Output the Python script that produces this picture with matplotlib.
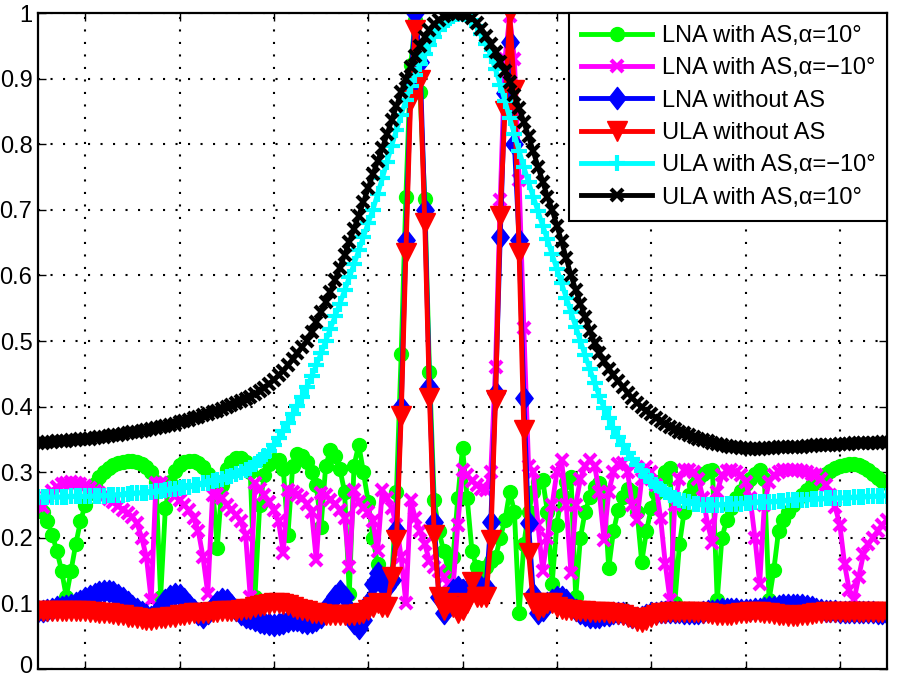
import numpy as np
import matplotlib
matplotlib.use("Agg")
import matplotlib.pyplot as plt
from matplotlib.path import Path
from matplotlib.transforms import ScaledTranslation

plt.rcParams['font.family'] = ['Liberation Sans', 'DejaVu Sans']

# ---------------- data (angle in degrees, -90..90 step 1) ----------------
angles = np.arange(-90, 91)

lna_as_p10 = [  # green, LNA with AS, alpha=10
    0.250,0.240,0.225,0.205,0.180,0.150,0.110,0.150,0.190,0.225,
    0.250,0.268,0.282,0.293,0.301,0.307,0.311,0.314,0.316,0.317,
    0.317,0.316,0.313,0.308,0.300,0.285,0.110,0.245,0.285,0.302,
    0.311,0.315,0.317,0.317,0.314,0.308,0.298,0.280,0.185,0.280,
    0.305,0.316,0.321,0.321,0.316,0.300,0.110,0.250,0.295,0.312,
    0.318,0.318,0.305,0.205,0.310,0.328,0.325,0.315,0.300,0.280,
    0.217,0.310,0.334,0.325,0.305,0.270,0.115,0.310,0.342,0.300,
    0.255,0.200,0.160,0.140,0.130,0.135,0.270,0.480,0.720,0.920,
    0.990,0.880,0.716,0.453,0.257,0.210,0.180,0.150,0.170,0.260,
    0.337,
    0.260,0.180,0.155,0.150,0.155,0.165,0.170,0.200,0.227,0.270,
    0.240,0.085,0.190,0.240,0.270,0.285,0.288,0.240,0.130,0.220,
    0.265,0.285,0.293,0.110,0.200,0.240,0.262,0.278,0.283,0.270,
    0.154,0.210,0.242,0.262,0.275,0.270,0.240,0.163,0.210,0.245,
    0.268,0.287,0.300,0.306,0.100,0.190,0.240,0.265,0.280,0.290,
    0.297,0.302,0.303,0.105,0.200,0.227,0.245,0.260,0.272,0.282,
    0.290,0.297,0.303,0.290,0.105,0.151,0.210,0.227,0.240,0.250,
    0.258,0.266,0.273,0.280,0.287,0.293,0.298,0.302,0.306,0.309,
    0.311,0.312,0.312,0.311,0.308,0.303,0.297,0.291,0.286,0.283]

lna_as_m10 = [  # magenta, LNA with AS, alpha=-10
    0.250,0.247,0.262,0.272,0.278,0.282,0.284,0.285,0.284,0.282,
    0.279,0.276,0.272,0.268,0.264,0.259,0.254,0.248,0.243,0.238,
    0.232,0.222,0.200,0.170,0.105,0.283,0.283,0.277,0.270,0.264,
    0.257,0.250,0.242,0.230,0.210,0.170,0.115,0.265,0.267,0.260,
    0.250,0.243,0.235,0.225,0.205,0.110,0.283,0.275,0.265,0.255,
    0.242,0.225,0.177,0.273,0.270,0.266,0.260,0.252,0.240,0.166,
    0.268,0.265,0.258,0.252,0.243,0.230,0.155,0.273,0.255,0.245,
    0.240,0.225,0.180,0.273,0.260,0.245,0.220,0.170,0.100,0.257,
    0.230,0.210,0.190,0.165,0.155,0.150,0.140,0.130,0.125,0.220,
    0.303,
    0.295,0.287,0.280,0.275,0.273,0.300,0.460,0.715,0.930,0.995,
    0.930,0.745,0.520,0.310,0.300,0.220,0.150,0.200,0.250,0.300,
    0.318,0.250,0.146,0.250,0.290,0.310,0.318,0.310,0.270,0.197,
    0.270,0.300,0.312,0.314,0.300,0.250,0.227,0.290,0.308,0.300,
    0.280,0.230,0.160,0.105,0.250,0.290,0.303,0.303,0.300,0.290,
    0.260,0.220,0.192,0.270,0.295,0.302,0.303,0.300,0.295,0.285,
    0.260,0.200,0.130,0.250,0.285,0.295,0.300,0.303,0.304,0.304,
    0.303,0.302,0.300,0.298,0.295,0.290,0.280,0.265,0.247,0.220,
    0.160,0.120,0.105,0.140,0.175,0.190,0.200,0.210,0.220,0.227]

lna_no_as = [  # blue, LNA without AS
    0.088,0.089,0.090,0.092,0.094,0.095,0.096,0.098,0.101,0.104,
    0.108,0.112,0.115,0.118,0.119,0.119,0.117,0.113,0.108,0.102,
    0.096,0.092,0.087,0.083,0.080,0.085,0.095,0.105,0.111,0.114,
    0.113,0.107,0.098,0.090,0.084,0.080,0.085,0.095,0.102,0.106,
    0.105,0.098,0.090,0.084,0.080,0.077,0.074,0.072,0.070,0.068,
    0.067,0.068,0.070,0.073,0.075,0.074,0.072,0.070,0.072,0.075,
    0.080,0.088,0.100,0.112,0.119,0.110,0.090,0.070,0.062,0.075,
    0.100,0.130,0.146,0.130,0.125,0.135,0.212,0.400,0.654,0.885,
    1.000,0.925,0.700,0.430,0.224,0.110,0.085,0.100,0.120,0.125,
    0.120,
    0.110,0.130,0.120,0.125,0.125,0.224,0.420,0.659,0.878,0.956,
    0.800,0.654,0.413,0.222,0.115,0.085,0.090,0.100,0.105,0.110,
    0.110,0.105,0.095,0.090,0.085,0.082,0.080,0.080,0.080,0.082,
    0.083,0.085,0.085,0.085,0.083,0.080,0.078,0.080,0.083,0.085,
    0.086,0.087,0.087,0.087,0.087,0.087,0.086,0.086,0.086,0.086,
    0.087,0.088,0.089,0.090,0.091,0.092,0.092,0.091,0.090,0.090,
    0.090,0.091,0.092,0.093,0.094,0.095,0.096,0.097,0.098,0.098,
    0.098,0.097,0.096,0.094,0.092,0.090,0.089,0.088,0.088,0.087,
    0.087,0.087,0.087,0.087,0.087,0.087,0.087,0.086,0.086,0.086]

ula_no_as = [  # red, ULA without AS
    0.088,0.088,0.088,0.088,0.088,0.088,0.088,0.088,0.088,0.088,
    0.088,0.087,0.087,0.086,0.086,0.085,0.084,0.083,0.082,0.080,
    0.079,0.077,0.076,0.075,0.075,0.076,0.077,0.078,0.079,0.080,
    0.082,0.083,0.084,0.085,0.085,0.086,0.086,0.087,0.087,0.088,
    0.088,0.089,0.089,0.090,0.091,0.092,0.094,0.096,0.098,0.099,
    0.100,0.100,0.099,0.097,0.095,0.092,0.090,0.088,0.086,0.085,
    0.084,0.083,0.082,0.082,0.082,0.083,0.083,0.083,0.084,0.086,
    0.090,0.095,0.100,0.095,0.095,0.140,0.197,0.385,0.634,0.867,
    0.974,0.898,0.680,0.413,0.204,0.110,0.090,0.100,0.095,0.085,
    0.090,
    0.100,0.133,0.110,0.110,0.110,0.197,0.410,0.690,0.850,1.000,
    0.883,0.634,0.364,0.177,0.100,0.090,0.095,0.100,0.100,0.095,
    0.092,0.090,0.090,0.089,0.088,0.088,0.087,0.087,0.087,0.087,
    0.086,0.085,0.084,0.082,0.080,0.077,0.073,0.071,0.075,0.080,
    0.083,0.085,0.086,0.087,0.087,0.087,0.087,0.087,0.087,0.087,
    0.086,0.085,0.084,0.083,0.083,0.083,0.083,0.084,0.085,0.086,
    0.087,0.087,0.087,0.086,0.085,0.084,0.083,0.082,0.081,0.081,
    0.081,0.082,0.083,0.084,0.085,0.086,0.087,0.087,0.087,0.087,
    0.087,0.087,0.087,0.087,0.087,0.087,0.087,0.087,0.087,0.087]

ula_as_m10 = [  # cyan, ULA with AS, alpha=-10
    0.262,0.262,0.262,0.262,0.262,0.262,0.262,0.263,0.263,0.263,
    0.263,0.263,0.264,0.264,0.264,0.265,0.265,0.266,0.266,0.267,
    0.268,0.268,0.269,0.269,0.270,0.271,0.272,0.273,0.274,0.275,
    0.276,0.277,0.278,0.280,0.281,0.283,0.284,0.286,0.288,0.290,
    0.292,0.294,0.297,0.300,0.303,0.307,0.312,0.318,0.325,0.333,
    0.342,0.352,0.363,0.375,0.388,0.401,0.415,0.430,0.446,0.463,
    0.481,0.500,0.519,0.538,0.557,0.577,0.597,0.617,0.638,0.659,
    0.680,0.700,0.724,0.748,0.773,0.798,0.822,0.845,0.867,0.888,
    0.906,0.922,0.937,0.951,0.963,0.974,0.983,0.990,0.996,0.999,
    0.999,
    0.997,0.990,0.980,0.968,0.953,0.935,0.914,0.891,0.866,0.840,
    0.815,0.790,0.765,0.742,0.720,0.698,0.676,0.655,0.632,0.610,
    0.588,0.566,0.544,0.522,0.500,0.478,0.457,0.436,0.416,0.398,
    0.382,0.367,0.353,0.341,0.330,0.320,0.311,0.302,0.294,0.287,
    0.281,0.275,0.270,0.265,0.261,0.258,0.256,0.254,0.252,0.251,
    0.250,0.250,0.250,0.250,0.250,0.251,0.251,0.252,0.252,0.253,
    0.253,0.254,0.254,0.255,0.255,0.255,0.256,0.256,0.257,0.257,
    0.258,0.258,0.258,0.259,0.259,0.259,0.260,0.260,0.260,0.261,
    0.261,0.261,0.262,0.262,0.262,0.263,0.263,0.263,0.264,0.264]

ula_as_p10 = [  # black, ULA with AS, alpha=10
    0.345,0.345,0.346,0.346,0.347,0.347,0.348,0.349,0.349,0.350,
    0.351,0.351,0.352,0.353,0.354,0.355,0.356,0.357,0.358,0.359,
    0.361,0.362,0.363,0.365,0.366,0.368,0.369,0.371,0.372,0.374,
    0.376,0.378,0.380,0.382,0.384,0.387,0.389,0.392,0.394,0.397,
    0.400,0.402,0.405,0.408,0.411,0.415,0.419,0.424,0.429,0.435,
    0.441,0.448,0.455,0.463,0.472,0.481,0.491,0.500,0.514,0.529,
    0.544,0.559,0.575,0.593,0.612,0.631,0.651,0.671,0.691,0.712,
    0.733,0.754,0.774,0.794,0.815,0.837,0.858,0.879,0.900,0.918,
    0.935,0.950,0.963,0.974,0.983,0.990,0.995,0.998,1.000,1.000,
    0.999,
    0.997,0.992,0.985,0.976,0.965,0.953,0.940,0.926,0.911,0.895,
    0.875,0.855,0.834,0.812,0.789,0.766,0.743,0.720,0.700,0.676,
    0.652,0.626,0.600,0.578,0.557,0.536,0.516,0.497,0.482,0.469,
    0.458,0.448,0.439,0.430,0.421,0.413,0.406,0.399,0.393,0.388,
    0.383,0.378,0.373,0.369,0.366,0.362,0.359,0.356,0.354,0.351,
    0.349,0.347,0.345,0.343,0.342,0.340,0.339,0.338,0.337,0.337,
    0.336,0.336,0.336,0.337,0.337,0.337,0.338,0.338,0.338,0.339,
    0.339,0.339,0.340,0.340,0.341,0.341,0.341,0.342,0.342,0.343,
    0.343,0.343,0.344,0.344,0.344,0.345,0.345,0.345,0.346,0.346]

labels = ["LNA with AS,\u03b1=10\u00b0", "LNA with AS,\u03b1=\u221210\u00b0",
          "LNA without AS", "ULA without AS",
          "ULA with AS,\u03b1=\u221210\u00b0", "ULA with AS,\u03b1=10\u00b0"]
x_ticks = [-80, -60, -40, -20, 0, 20, 40, 60, 80]
y_ticks = [0, 0.1, 0.2, 0.3, 0.4, 0.5, 0.6, 0.7, 0.8, 0.9, 1.0]
y_ticklabels = ["0", "0.1", "0.2", "0.3", "0.4", "0.5", "0.6", "0.7", "0.8", "0.9", "1"]

# ---------------- figure ----------------
W, H = 899, 679
fig = plt.figure(figsize=(W / 100, H / 100), dpi=100)
ax = fig.add_axes([38 / W, 10 / H, (887 - 38) / W, (669 - 13) / H])

diamond = Path([(0, 1), (0.78, 0), (0, -1), (-0.78, 0), (0, 1)],
               [Path.MOVETO, Path.LINETO, Path.LINETO, Path.LINETO, Path.CLOSEPOLY])

lw = 3.5
styles = [
    dict(color='#00ff00', marker='o', ms=10, mew=1),
    dict(color='#ff00ff', marker='x', ms=8, mew=3),
    dict(color='#0000ff', marker=diamond, ms=16, mew=1),
    dict(color='#ff0000', marker='v', ms=14, mew=1),
    dict(color='#00ffff', marker='+', ms=11, mew=3),
    dict(color='#000000', marker='x', ms=9, mew=3),
]
series = [lna_as_p10, lna_as_m10, lna_no_as, ula_no_as, ula_as_m10, ula_as_p10]
for ys, st, lab in zip(series, styles, labels):
    ax.plot(angles, ys, lw=lw, label=lab, clip_on=True, **st)

ax.set_xlim(-90, 90)
ax.set_ylim(0, 1)
ax.set_xticks(x_ticks)
ax.set_xticklabels([])
ax.set_yticks(y_ticks)
ax.set_yticklabels(y_ticklabels)
ax.tick_params(direction='in', length=6, width=1, top=True, right=True,
               labelsize=17, pad=4)
ax.grid(True, color='black', linestyle=(0, (1, 5)), linewidth=1.5)
for s in ax.spines.values():
    s.set_linewidth(1.6)

# keep the bottom "0" label fully inside the canvas
lab0 = ax.get_yticklabels()[0]
lab0.set_transform(lab0.get_transform() + ScaledTranslation(0, 3 / 72, fig.dpi_scale_trans))

leg = ax.legend(loc='upper right', bbox_to_anchor=(1.0, 1.0), borderaxespad=0,
                fontsize=17, fancybox=False, framealpha=1, edgecolor='black',
                handlelength=3.0, handletextpad=0.4, labelspacing=0.44,
                borderpad=0.5)
leg.get_frame().set_linewidth(1.5)

fig.savefig("out.png", dpi=100)
